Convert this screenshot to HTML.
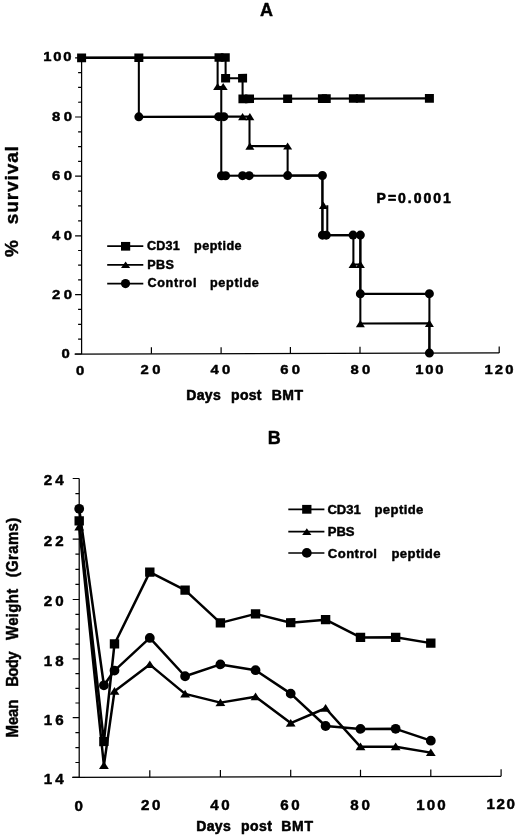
<!DOCTYPE html>
<html><head><meta charset="utf-8"><title>Figure</title>
<style>
html,body{margin:0;padding:0;background:#fff;}
body{width:520px;height:837px;overflow:hidden;font-family:"Liberation Sans",sans-serif;}
svg{display:block;filter:blur(0.35px);}
</style></head><body>
<svg width="520" height="837" viewBox="0 0 520 837">
<rect width="520" height="837" fill="#fff"/>
<g transform="matrix(1 -0.0026 0 1 0 0.21)">
<g stroke="#000" stroke-width="1.25" fill="none" stroke-linecap="butt">
<path d="M81.60 57.90 V354.00 M74.60 354.00 H499.20"/>
<path d="M75.10 354.00 H81.60 M78.10 339.15 H81.60 M78.10 324.30 H81.60 M78.10 309.45 H81.60 M75.10 294.60 H81.60 M78.10 279.90 H81.60 M78.10 265.20 H81.60 M78.10 250.50 H81.60 M75.10 235.80 H81.60 M78.10 220.88 H81.60 M78.10 205.95 H81.60 M78.10 191.03 H81.60 M75.10 176.10 H81.60 M78.10 161.32 H81.60 M78.10 146.55 H81.60 M78.10 131.78 H81.60 M75.10 117.00 H81.60 M78.10 102.22 H81.60 M78.10 87.45 H81.60 M78.10 72.67 H81.60 M75.10 57.90 H81.60 " stroke-width="1.2"/>
<path d="M151.40 354.00 v-6.5 M221.10 354.00 v-6.5 M290.40 354.00 v-6.5 M360.00 354.00 v-6.5 M429.40 354.00 v-6.5 M499.20 354.00 v-6.5 " stroke-width="1.2"/>
</g>
<g stroke="#000" stroke-width="2.05" fill="none" stroke-linejoin="miter">
<path d="M81.60 57.90 L225.60 57.90 L225.60 78.59 L242.58 78.59 L242.58 99.27 L429.40 99.27 "/>
<path d="M81.60 57.90 L217.62 57.90 L217.62 87.45 L221.27 87.45 L221.27 117.00 L249.51 117.00 L249.51 146.55 L287.63 146.55 L287.63 176.10 L322.42 176.10 L322.42 205.95 L322.42 235.80 L353.39 235.80 L353.39 265.20 L360.35 265.20 L360.35 324.30 L429.40 324.30 L429.40 354.00 "/>
<path d="M327.29 205.95 L327.29 235.80 "/>
<path d="M360.35 235.80 L360.35 265.20 "/>
<path d="M81.60 57.90 L138.84 57.90 L138.84 117.00 L221.27 117.00 L221.27 176.10 L322.42 176.10 L322.42 235.80 L360.35 235.80 L360.35 294.60 L429.40 294.60 L429.40 354.00 "/>
</g>
<g fill="#000">
<rect x="77.10" y="53.60" width="9" height="8.6"/>
<rect x="134.34" y="53.60" width="9" height="8.6"/>
<rect x="214.51" y="53.60" width="9" height="8.6"/>
<rect x="220.76" y="53.60" width="9" height="8.6"/>
<rect x="221.10" y="74.29" width="9" height="8.6"/>
<rect x="238.08" y="74.29" width="9" height="8.6"/>
<rect x="238.43" y="94.97" width="9" height="8.6"/>
<rect x="245.01" y="94.97" width="9" height="8.6"/>
<rect x="283.13" y="94.97" width="9" height="8.6"/>
<rect x="317.92" y="94.97" width="9" height="8.6"/>
<rect x="321.74" y="94.97" width="9" height="8.6"/>
<rect x="348.89" y="94.97" width="9" height="8.6"/>
<rect x="355.85" y="94.97" width="9" height="8.6"/>
<rect x="424.90" y="94.97" width="9" height="8.6"/>
<path d="M217.62 83.26 L222.12 90.46 L213.12 90.46Z"/>
<path d="M223.18 83.26 L227.68 90.46 L218.68 90.46Z"/>
<path d="M242.58 113.40 L247.08 120.60 L238.08 120.60Z"/>
<path d="M249.86 113.40 L254.36 120.60 L245.36 120.60Z"/>
<path d="M249.86 142.95 L254.36 150.15 L245.36 150.15Z"/>
<path d="M287.63 142.95 L292.13 150.15 L283.13 150.15Z"/>
<path d="M323.46 202.35 L327.96 209.55 L318.96 209.55Z"/>
<path d="M353.04 261.60 L357.54 268.80 L348.54 268.80Z"/>
<path d="M360.35 261.60 L364.85 268.80 L355.85 268.80Z"/>
<path d="M360.35 320.70 L364.85 327.90 L355.85 327.90Z"/>
<path d="M429.40 320.70 L433.90 327.90 L424.90 327.90Z"/>
<circle cx="138.84" cy="117.00" r="4.5"/>
<circle cx="218.66" cy="117.00" r="4.5"/>
<circle cx="223.87" cy="117.00" r="4.5"/>
<circle cx="221.45" cy="176.10" r="4.5"/>
<circle cx="225.60" cy="176.10" r="4.5"/>
<circle cx="242.58" cy="176.10" r="4.5"/>
<circle cx="249.17" cy="176.10" r="4.5"/>
<circle cx="287.63" cy="176.10" r="4.5"/>
<circle cx="322.42" cy="176.10" r="4.5"/>
<circle cx="322.42" cy="235.80" r="4.5"/>
<circle cx="326.24" cy="235.80" r="4.5"/>
<circle cx="353.04" cy="235.80" r="4.5"/>
<circle cx="360.35" cy="235.80" r="4.5"/>
<circle cx="360.35" cy="294.60" r="4.5"/>
<circle cx="429.40" cy="294.60" r="4.5"/>
<circle cx="429.40" cy="354.00" r="4.5"/>
</g>
</g>
<g stroke="#000" stroke-width="1.7">
<path d="M107.2 246.2 H143.3"/>
<path d="M107.2 264.9 H143.3"/>
<path d="M107.2 283.6 H143.3"/>
</g><g fill="#000">
<rect x="121.00" y="241.95" width="9.2" height="8.7"/>
<path d="M125.60 261.60 L130.20 268.10 L121.00 268.10Z"/>
<circle cx="125.50" cy="283.60" r="4.6"/>
</g>
<g font-family="Liberation Sans, sans-serif" font-weight="bold" fill="#000">
<text transform="translate(266.6 15.8) scale(1.0 1)" font-size="18" text-anchor="middle" stroke="#000" stroke-width="0.4" stroke-linejoin="round">A</text>
<text transform="translate(147.0 249.9) scale(1.0 1)" font-size="12.6" text-anchor="start" stroke="#000" stroke-width="0.45" stroke-linejoin="round" textLength="32.80" lengthAdjust="spacing">CD31</text>
<text transform="translate(194.0 249.9) scale(1.0 1)" font-size="12.6" text-anchor="start" stroke="#000" stroke-width="0.45" stroke-linejoin="round" textLength="47.60" lengthAdjust="spacing">peptide</text>
<text transform="translate(147.2 268.5) scale(1.0 1)" font-size="12.6" text-anchor="start" stroke="#000" stroke-width="0.45" stroke-linejoin="round" textLength="26.80" lengthAdjust="spacing">PBS</text>
<text transform="translate(147.4 287.4) scale(1.0 1)" font-size="12.6" text-anchor="start" stroke="#000" stroke-width="0.45" stroke-linejoin="round" textLength="49.00" lengthAdjust="spacing">Control</text>
<text transform="translate(210.0 287.4) scale(1.0 1)" font-size="12.6" text-anchor="start" stroke="#000" stroke-width="0.45" stroke-linejoin="round" textLength="48.80" lengthAdjust="spacing">peptide</text>
<text transform="translate(376.6 202.7) scale(1.0 1)" font-size="14" text-anchor="start" stroke="#000" stroke-width="0.55" stroke-linejoin="round" textLength="74.20" lengthAdjust="spacing">P=0.0001</text>
<text transform="translate(43.2 61.40) scale(1.1 1)" font-size="13.5" text-anchor="start" stroke="#000" stroke-width="0.45" stroke-linejoin="round" textLength="25.82" lengthAdjust="spacing">100</text>
<text transform="translate(52.0 121.30) scale(1.1 1)" font-size="13.5" text-anchor="start" stroke="#000" stroke-width="0.45" stroke-linejoin="round" textLength="18.18" lengthAdjust="spacing">80</text>
<text transform="translate(52.0 180.40) scale(1.1 1)" font-size="13.5" text-anchor="start" stroke="#000" stroke-width="0.45" stroke-linejoin="round" textLength="18.18" lengthAdjust="spacing">60</text>
<text transform="translate(52.0 240.10) scale(1.1 1)" font-size="13.5" text-anchor="start" stroke="#000" stroke-width="0.45" stroke-linejoin="round" textLength="18.18" lengthAdjust="spacing">40</text>
<text transform="translate(52.0 298.90) scale(1.1 1)" font-size="13.5" text-anchor="start" stroke="#000" stroke-width="0.45" stroke-linejoin="round" textLength="18.18" lengthAdjust="spacing">20</text>
<text transform="translate(61.6 358.30) scale(1.1 1)" font-size="13.5" text-anchor="start" stroke="#000" stroke-width="0.45" stroke-linejoin="round">0</text>
<text transform="translate(76.00 374.60) scale(1.1 1)" font-size="13.5" text-anchor="start" stroke="#000" stroke-width="0.45" stroke-linejoin="round">0</text>
<text transform="translate(140.60 374.42) scale(1.1 1)" font-size="13.5" text-anchor="start" stroke="#000" stroke-width="0.45" stroke-linejoin="round" textLength="18.00" lengthAdjust="spacing">20</text>
<text transform="translate(210.40 374.24) scale(1.1 1)" font-size="13.5" text-anchor="start" stroke="#000" stroke-width="0.45" stroke-linejoin="round" textLength="18.00" lengthAdjust="spacing">40</text>
<text transform="translate(280.30 374.06) scale(1.1 1)" font-size="13.5" text-anchor="start" stroke="#000" stroke-width="0.45" stroke-linejoin="round" textLength="18.00" lengthAdjust="spacing">60</text>
<text transform="translate(350.40 373.87) scale(1.1 1)" font-size="13.5" text-anchor="start" stroke="#000" stroke-width="0.45" stroke-linejoin="round" textLength="18.00" lengthAdjust="spacing">80</text>
<text transform="translate(415.20 373.69) scale(1.1 1)" font-size="13.5" text-anchor="start" stroke="#000" stroke-width="0.45" stroke-linejoin="round" textLength="25.82" lengthAdjust="spacing">100</text>
<text transform="translate(484.60 373.51) scale(1.1 1)" font-size="13.5" text-anchor="start" stroke="#000" stroke-width="0.45" stroke-linejoin="round" textLength="26.18" lengthAdjust="spacing">120</text>
<text transform="translate(186.3 399.7) scale(1.0 1)" font-size="14" text-anchor="start" stroke="#000" stroke-width="0.55" stroke-linejoin="round" textLength="34.40" lengthAdjust="spacing">Days</text>
<text transform="translate(231.1 399.7) scale(1.0 1)" font-size="14" text-anchor="start" stroke="#000" stroke-width="0.55" stroke-linejoin="round" textLength="30.40" lengthAdjust="spacing">post</text>
<text transform="translate(271.8 399.7) scale(1.0 1)" font-size="14" text-anchor="start" stroke="#000" stroke-width="0.55" stroke-linejoin="round" textLength="31.20" lengthAdjust="spacing">BMT</text>
<g transform="translate(18.0 256.9) rotate(-90)">
<text transform="translate(0 0) scale(1.0 1)" font-size="19" text-anchor="start" stroke="#000" stroke-width="0.4" stroke-linejoin="round">%</text>
<text transform="translate(32.6 0) scale(1.0 1)" font-size="19" text-anchor="start" stroke="#000" stroke-width="0.4" stroke-linejoin="round" textLength="78.20" lengthAdjust="spacing">survival</text>
</g>
</g>
<g transform="matrix(1 -0.0026 0 1 0 0.21)">
<g stroke="#000" stroke-width="1.25" fill="none">
<path d="M79.20 478.50 V777.40 M72.20 777.40 H501.10"/>
<path d="M72.70 777.40 H79.20 M75.40 762.48 H79.20 M75.40 747.55 H79.20 M75.40 732.62 H79.20 M72.70 717.70 H79.20 M75.40 703.00 H79.20 M75.40 688.30 H79.20 M75.40 673.60 H79.20 M72.70 658.90 H79.20 M75.40 644.05 H79.20 M75.40 629.20 H79.20 M75.40 614.35 H79.20 M72.70 599.50 H79.20 M75.40 584.40 H79.20 M75.40 569.30 H79.20 M75.40 554.20 H79.20 M72.70 539.10 H79.20 M75.40 523.95 H79.20 M75.40 508.80 H79.20 M75.40 493.65 H79.20 M72.70 478.50 H79.20 " stroke-width="1.2"/>
<path d="M149.80 777.40 v-7 M220.40 777.40 v-7 M290.70 777.40 v-7 M360.50 777.40 v-7 M430.80 777.40 v-7 M501.10 777.40 v-7 " stroke-width="1.2"/>
</g>
<g stroke="#000" stroke-width="2.5" fill="none" stroke-linejoin="round">
<path d="M79.20 520.92 L103.91 741.58 L114.50 644.05 L149.80 572.32 L185.10 590.44 L220.40 623.26 L255.55 614.35 L290.70 623.26 L325.60 620.29 L360.50 638.11 L395.65 638.11 L430.80 644.05 "/>
<path d="M79.20 508.80 L103.91 685.36 L114.50 670.66 L149.80 638.11 L185.10 676.54 L220.40 664.78 L255.55 670.66 L290.70 694.18 L325.60 726.66 L360.50 729.64 L395.65 729.64 L430.80 741.58 "/>
<path d="M79.20 526.98 L103.91 765.46 L114.50 691.24 L149.80 664.78 L185.10 694.18 L220.40 703.00 L255.55 697.12 L290.70 723.67 L325.60 708.88 L360.50 747.55 L395.65 747.55 L430.80 753.52 "/>
</g>
<g fill="#000">
<rect x="74.50" y="516.32" width="9.4" height="9.2"/>
<rect x="99.21" y="736.98" width="9.4" height="9.2"/>
<rect x="109.80" y="639.45" width="9.4" height="9.2"/>
<rect x="145.10" y="567.72" width="9.4" height="9.2"/>
<rect x="180.40" y="585.84" width="9.4" height="9.2"/>
<rect x="215.70" y="618.66" width="9.4" height="9.2"/>
<rect x="250.85" y="609.75" width="9.4" height="9.2"/>
<rect x="286.00" y="618.66" width="9.4" height="9.2"/>
<rect x="320.90" y="615.69" width="9.4" height="9.2"/>
<rect x="355.80" y="633.51" width="9.4" height="9.2"/>
<rect x="390.95" y="633.51" width="9.4" height="9.2"/>
<rect x="426.10" y="639.45" width="9.4" height="9.2"/>
<path d="M79.20 522.78 L84.10 530.48 L74.30 530.48Z"/>
<path d="M103.91 761.26 L108.81 768.96 L99.01 768.96Z"/>
<path d="M114.50 687.04 L119.40 694.74 L109.60 694.74Z"/>
<path d="M149.80 660.58 L154.70 668.28 L144.90 668.28Z"/>
<path d="M185.10 689.98 L190.00 697.68 L180.20 697.68Z"/>
<path d="M220.40 698.80 L225.30 706.50 L215.50 706.50Z"/>
<path d="M255.55 692.92 L260.45 700.62 L250.65 700.62Z"/>
<path d="M290.70 719.47 L295.60 727.17 L285.80 727.17Z"/>
<path d="M325.60 704.68 L330.50 712.38 L320.70 712.38Z"/>
<path d="M360.50 743.35 L365.40 751.05 L355.60 751.05Z"/>
<path d="M395.65 743.35 L400.55 751.05 L390.75 751.05Z"/>
<path d="M430.80 749.32 L435.70 757.02 L425.90 757.02Z"/>
<circle cx="79.20" cy="508.80" r="4.9"/>
<circle cx="103.91" cy="685.36" r="4.9"/>
<circle cx="114.50" cy="670.66" r="4.9"/>
<circle cx="149.80" cy="638.11" r="4.9"/>
<circle cx="185.10" cy="676.54" r="4.9"/>
<circle cx="220.40" cy="664.78" r="4.9"/>
<circle cx="255.55" cy="670.66" r="4.9"/>
<circle cx="290.70" cy="694.18" r="4.9"/>
<circle cx="325.60" cy="726.66" r="4.9"/>
<circle cx="360.50" cy="729.64" r="4.9"/>
<circle cx="395.65" cy="729.64" r="4.9"/>
<circle cx="430.80" cy="741.58" r="4.9"/>
</g>
</g>
<g stroke="#000" stroke-width="1.7">
<path d="M288.3 509.4 H324.4"/>
<path d="M288.3 531.7 H324.4"/>
<path d="M288.3 553.0 H324.4"/>
</g><g fill="#000">
<rect x="302.15" y="504.90" width="9.3" height="8.8"/>
<path d="M306.80 528.20 L311.40 534.90 L302.20 534.90Z"/>
<circle cx="306.80" cy="552.90" r="4.9"/>
</g>
<g font-family="Liberation Sans, sans-serif" font-weight="bold" fill="#000">
<text transform="translate(274.2 444.4) scale(1.0 1)" font-size="18" text-anchor="middle" stroke="#000" stroke-width="0.4" stroke-linejoin="round">B</text>
<text transform="translate(327.4 514.0) scale(1.0 1)" font-size="13.1" text-anchor="start" stroke="#000" stroke-width="0.45" stroke-linejoin="round" textLength="33.40" lengthAdjust="spacing">CD31</text>
<text transform="translate(374.5 514.0) scale(1.0 1)" font-size="13.1" text-anchor="start" stroke="#000" stroke-width="0.45" stroke-linejoin="round" textLength="48.80" lengthAdjust="spacing">peptide</text>
<text transform="translate(327.8 536.3) scale(1.0 1)" font-size="13.1" text-anchor="start" stroke="#000" stroke-width="0.45" stroke-linejoin="round" textLength="26.80" lengthAdjust="spacing">PBS</text>
<text transform="translate(327.8 557.5) scale(1.0 1)" font-size="13.1" text-anchor="start" stroke="#000" stroke-width="0.45" stroke-linejoin="round" textLength="49.20" lengthAdjust="spacing">Control</text>
<text transform="translate(391.4 557.5) scale(1.0 1)" font-size="13.1" text-anchor="start" stroke="#000" stroke-width="0.45" stroke-linejoin="round" textLength="49.20" lengthAdjust="spacing">peptide</text>
<text transform="translate(43.8 784.30) scale(1.08 1)" font-size="14" text-anchor="start" stroke="#000" stroke-width="0.45" stroke-linejoin="round" textLength="18.33" lengthAdjust="spacing">14</text>
<text transform="translate(43.8 724.60) scale(1.08 1)" font-size="14" text-anchor="start" stroke="#000" stroke-width="0.45" stroke-linejoin="round" textLength="18.33" lengthAdjust="spacing">16</text>
<text transform="translate(43.8 665.80) scale(1.08 1)" font-size="14" text-anchor="start" stroke="#000" stroke-width="0.45" stroke-linejoin="round" textLength="18.33" lengthAdjust="spacing">18</text>
<text transform="translate(43.8 606.40) scale(1.08 1)" font-size="14" text-anchor="start" stroke="#000" stroke-width="0.45" stroke-linejoin="round" textLength="18.33" lengthAdjust="spacing">20</text>
<text transform="translate(43.8 546.00) scale(1.08 1)" font-size="14" text-anchor="start" stroke="#000" stroke-width="0.45" stroke-linejoin="round" textLength="18.33" lengthAdjust="spacing">22</text>
<text transform="translate(43.8 485.40) scale(1.08 1)" font-size="14" text-anchor="start" stroke="#000" stroke-width="0.45" stroke-linejoin="round" textLength="18.33" lengthAdjust="spacing">24</text>
<text transform="translate(74.50 810.60) scale(1.08 1)" font-size="14" text-anchor="start" stroke="#000" stroke-width="0.45" stroke-linejoin="round">0</text>
<text transform="translate(140.90 810.38) scale(1.08 1)" font-size="14" text-anchor="start" stroke="#000" stroke-width="0.45" stroke-linejoin="round" textLength="18.15" lengthAdjust="spacing">20</text>
<text transform="translate(210.20 810.18) scale(1.08 1)" font-size="14" text-anchor="start" stroke="#000" stroke-width="0.45" stroke-linejoin="round" textLength="18.15" lengthAdjust="spacing">40</text>
<text transform="translate(280.20 809.97) scale(1.08 1)" font-size="14" text-anchor="start" stroke="#000" stroke-width="0.45" stroke-linejoin="round" textLength="18.15" lengthAdjust="spacing">60</text>
<text transform="translate(350.30 809.76) scale(1.08 1)" font-size="14" text-anchor="start" stroke="#000" stroke-width="0.45" stroke-linejoin="round" textLength="18.15" lengthAdjust="spacing">80</text>
<text transform="translate(416.30 809.54) scale(1.08 1)" font-size="14" text-anchor="start" stroke="#000" stroke-width="0.45" stroke-linejoin="round" textLength="27.22" lengthAdjust="spacing">100</text>
<text transform="translate(486.40 809.33) scale(1.08 1)" font-size="14" text-anchor="start" stroke="#000" stroke-width="0.45" stroke-linejoin="round" textLength="26.48" lengthAdjust="spacing">120</text>
<text transform="translate(196.2 831.0) scale(1.0 1)" font-size="14" text-anchor="start" stroke="#000" stroke-width="0.55" stroke-linejoin="round" textLength="34.60" lengthAdjust="spacing">Days</text>
<text transform="translate(241.0 831.0) scale(1.0 1)" font-size="14" text-anchor="start" stroke="#000" stroke-width="0.55" stroke-linejoin="round" textLength="31.00" lengthAdjust="spacing">post</text>
<text transform="translate(281.2 831.0) scale(1.0 1)" font-size="14" text-anchor="start" stroke="#000" stroke-width="0.55" stroke-linejoin="round" textLength="31.80" lengthAdjust="spacing">BMT</text>
<g transform="translate(17.7 737.4) rotate(-90) scale(1 1.16)">
<text transform="translate(0 0) scale(1.0 1)" font-size="15" text-anchor="start" stroke="#000" stroke-width="0.4" stroke-linejoin="round" textLength="37.80" lengthAdjust="spacing">Mean</text>
<text transform="translate(50.6 0) scale(1.0 1)" font-size="15" text-anchor="start" stroke="#000" stroke-width="0.4" stroke-linejoin="round" textLength="35.40" lengthAdjust="spacing">Body</text>
<text transform="translate(97.4 0) scale(1.0 1)" font-size="15" text-anchor="start" stroke="#000" stroke-width="0.4" stroke-linejoin="round" textLength="51.20" lengthAdjust="spacing">Weight</text>
<text transform="translate(160.2 0) scale(1.0 1)" font-size="15" text-anchor="start" stroke="#000" stroke-width="0.4" stroke-linejoin="round" textLength="59.40" lengthAdjust="spacing">(Grams)</text>
</g>
</g>
</svg>
</body></html>
